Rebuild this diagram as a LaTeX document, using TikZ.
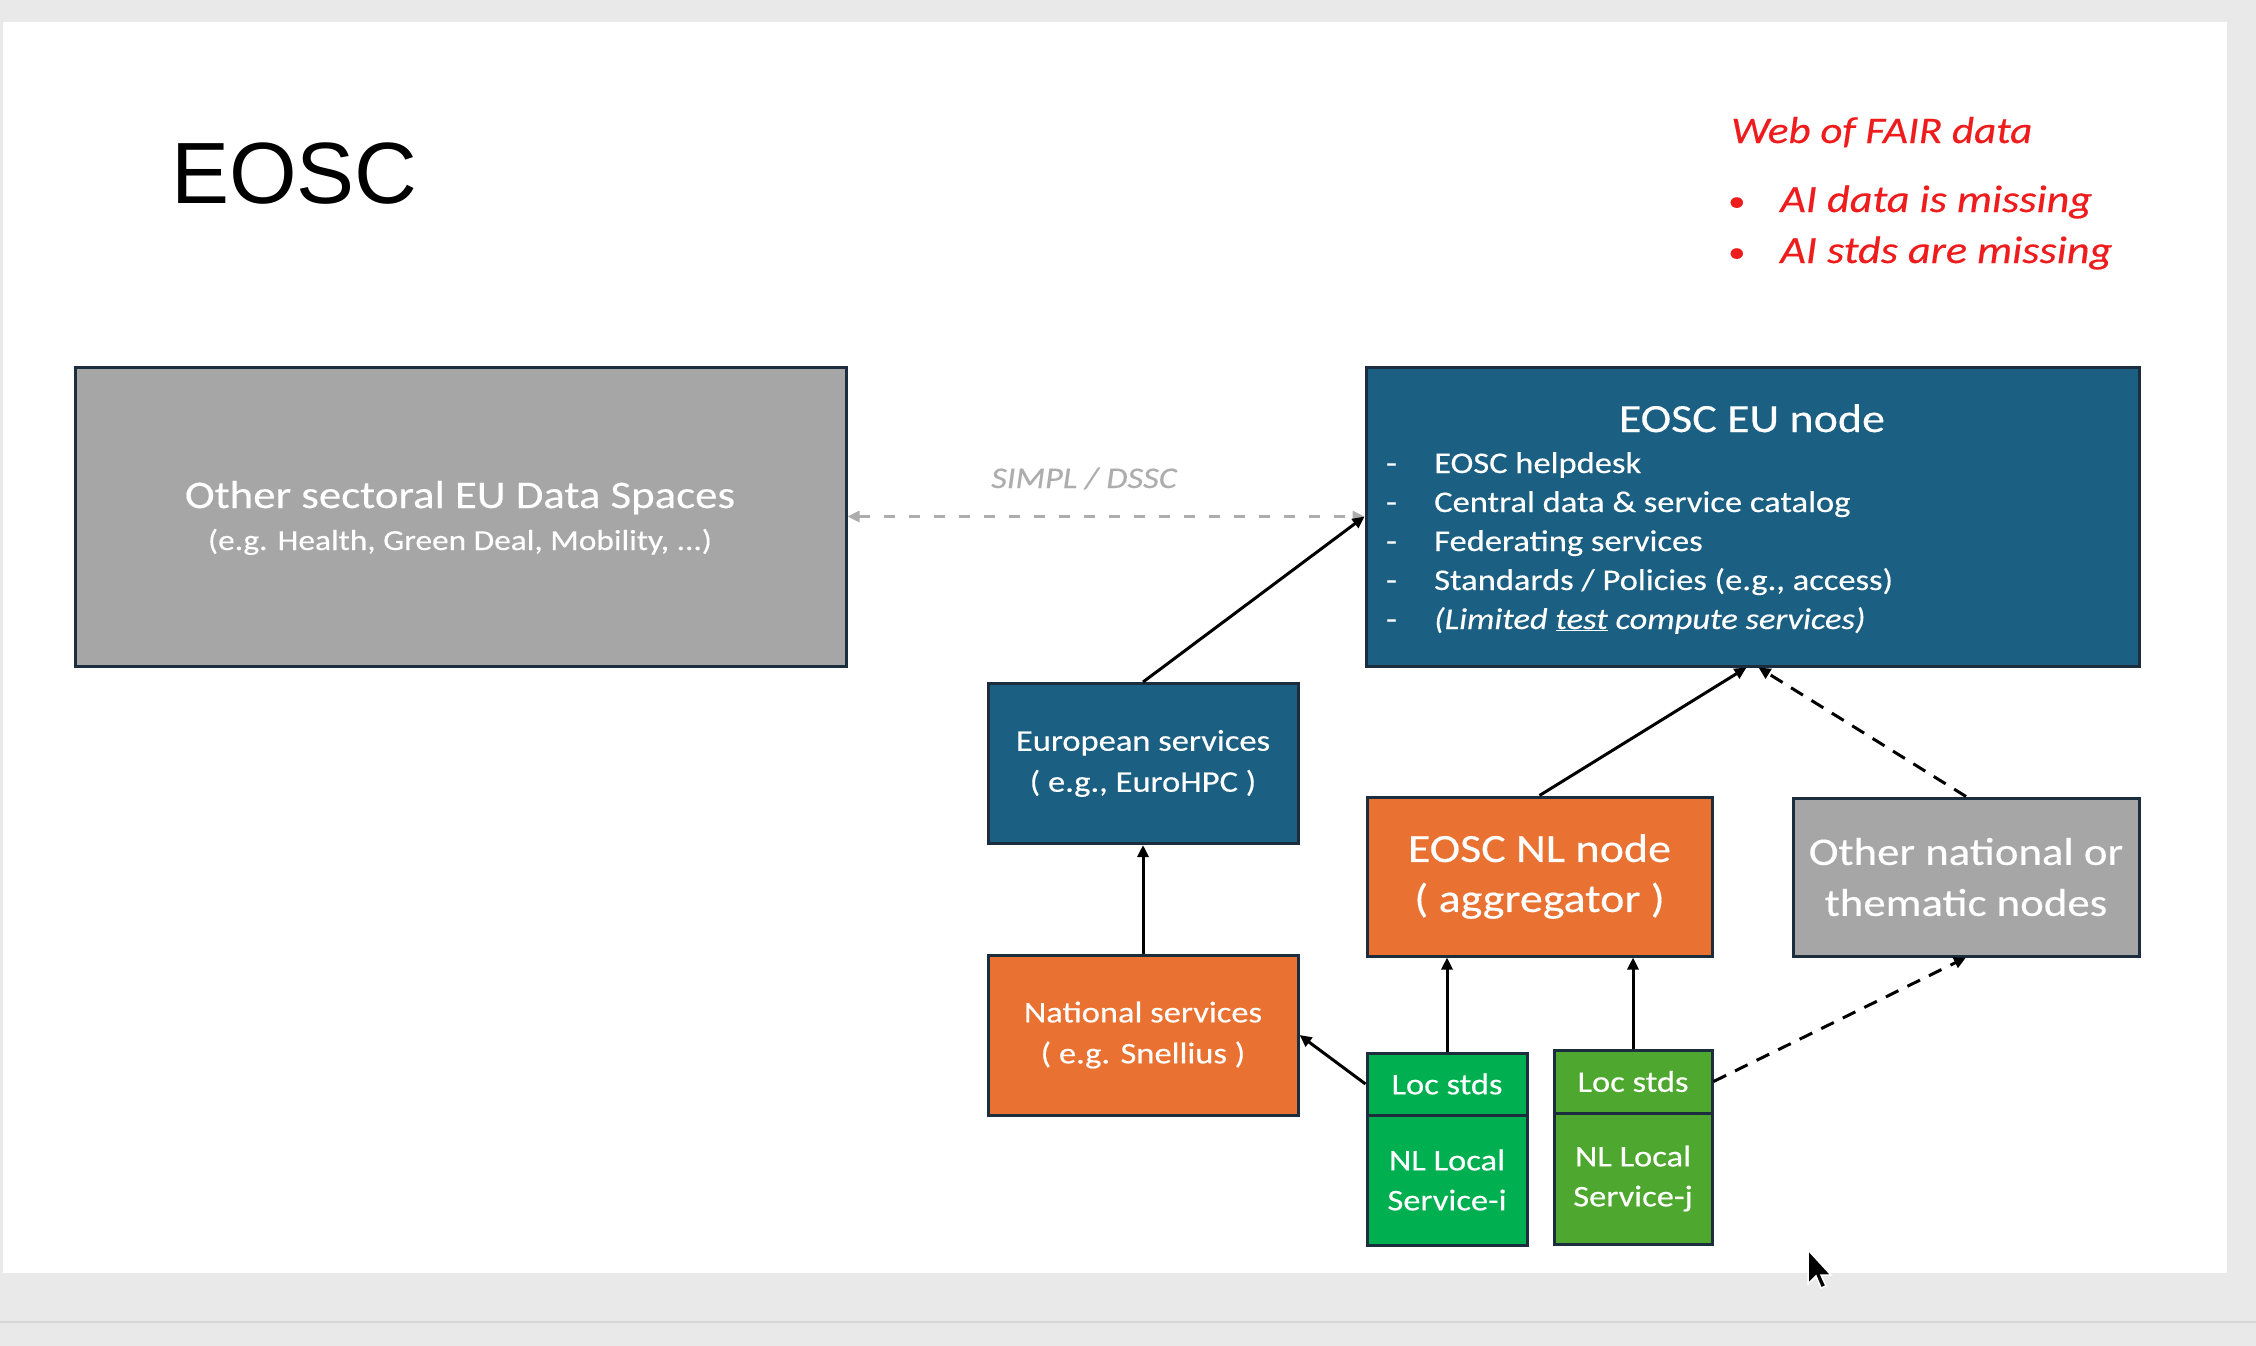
\documentclass[tikz,border=0pt]{standalone}
\usepackage{fontspec}
\setmainfont{Carlito}[FakeStretch=1.15, FakeBold=0.35]
\newfontfamily\titlefont{Liberation Sans}
\usetikzlibrary{arrows.meta}
\definecolor{bgray}{HTML}{E9E9E9}
\definecolor{bline}{HTML}{D6D6D6}
\definecolor{eublue}{HTML}{1B5F82}
\definecolor{edgec}{HTML}{1C2E3D}
\definecolor{orng}{HTML}{E97132}
\definecolor{boxgray}{HTML}{A6A6A6}
\definecolor{greenA}{HTML}{00B050}
\definecolor{greenB}{HTML}{4EA72E}
\definecolor{redtxt}{HTML}{EE1C1C}
\definecolor{linkgray}{HTML}{ADADAD}
\newcommand\setfs[2]{\fontsize{#1}{#2}\selectfont}
\tikzset{
  box/.style={draw=edgec, line width=3pt, text=white, align=center, inner sep=0pt, rectangle},
  conn/.style={line width=3pt, -{Triangle[length=12pt,width=11pt]}},
  dconn/.style={conn, dash pattern=on 14pt off 10pt},
  gconn/.style={line width=3pt, draw=linkgray, dash pattern=on 11pt off 14pt,
     {Triangle[length=12pt,width=11pt]}-{Triangle[length=12pt,width=11pt]}},
  lbl/.style={inner sep=0pt, anchor=base west},
  ctr/.style={inner sep=0pt, anchor=base},
}
\begin{document}
\begin{tikzpicture}[x=1pt,y=-1pt]
\useasboundingbox (0,0) rectangle (2256,1346);
\fill[bgray] (0,0) rectangle (2256,1346);
\fill[white] (3,22) rectangle (2227,1273);
\draw[bline, line width=2pt] (0,1322) -- (2256,1322);

% title and notes
\node[lbl, font=\titlefont\setfs{87}{87}] (title) at (171,203) {EOSC};
\node[lbl, text=redtxt, font=\itshape\setfs{37.5}{40}] (fair) at (1731,143) {Web of FAIR data};
\node[lbl, text=redtxt, font=\setfs{30}{40}] (b1) at (1728,211) {•};
\node[lbl, text=redtxt, font=\setfs{30}{40}] (b2) at (1728,262) {•};
\node[lbl, text=redtxt, font=\itshape\setfs{38.5}{40}] (r1) at (1780,212) {AI data is missing};
\node[lbl, text=redtxt, font=\itshape\setfs{38.5}{40}] (r2) at (1780,263) {AI stds are missing};

% boxes
\node[box, fill=boxgray, minimum width=771pt, minimum height=299pt] (gray) at (460.5,516.5) {};
\node[ctr, text=white, font=\setfs{39}{42}] (grayt1) at (460,508) {Other sectoral EU Data Spaces};
\node[ctr, text=white, font=\setfs{29}{32}] (grayt2) at (460,550) {(e.g. Health, Green Deal, Mobility, ...)};

\node[box, fill=eublue, minimum width=773pt, minimum height=299pt] (eu) at (1752.5,516.5) {};
\node[ctr, text=white, font=\setfs{40}{42}] (eut) at (1752,432) {EOSC EU node};
\foreach \y/\t [count=\i] in {473/{EOSC helpdesk},512/{Central data \& service catalog},551/{Federating services},590/{Standards / Policies (e.g., access)},629/{\itshape (Limited \underline{test} compute services)}}{
  \node[lbl, text=white, font=\setfs{30}{32}] (dash\i) at (1386,\y) {-};
  \node[lbl, text=white, font=\setfs{30}{32}] (item\i) at (1434,\y) {\t};
}

\node[box, fill=eublue, minimum width=310pt, minimum height=160pt, font=\setfs{30}{41}] (eur) at (1143,763.5) {European services\\( e.g., EuroHPC )};
\node[box, fill=orng, minimum width=310pt, minimum height=160pt, font=\setfs{30}{41}] (nat) at (1143,1035) {National services\\( e.g. Snellius )};
\node[box, fill=orng, minimum width=345pt, minimum height=159pt, font=\setfs{40}{50}] (nl) at (1539.5,876.5) {EOSC NL node\\( aggregator )};
\node[box, fill=boxgray, minimum width=346pt, minimum height=158pt, font=\setfs{39}{51}] (other) at (1966,877) {Other national or\\thematic nodes};

\node[box, fill=greenA, minimum width=160pt, minimum height=62pt, font=\setfs{30}{32}] (loci) at (1447,1084) {Loc stds};
\node[box, fill=greenA, minimum width=160pt, minimum height=130pt, font=\setfs{30}{40}] (svci) at (1447,1180) {NL Local\\Service-i};
\node[box, fill=greenB, minimum width=158pt, minimum height=63pt, font=\setfs{30}{32}] (locj) at (1633,1081.5) {Loc stds};
\node[box, fill=greenB, minimum width=158pt, minimum height=131pt, font=\setfs{30}{40}] (svcj) at (1633,1178.5) {NL Local\\Service-j};

\node[ctr, text=linkgray, font=\itshape\setfs{30}{32}] (simpl) at (1084,488) {SIMPL / DSSC};

% connectors
\draw[gconn] (gray.east) -- (eu.west);
\draw[conn] (eur.north) -- (eu.west);
\draw[conn] (nat.north) -- (eur.south);
\draw[conn] (loci.west) -- (nat.east);
\draw[conn] (loci.north) -- (loci.north |- nl.south);
\draw[conn] (locj.north) -- (locj.north |- nl.south);
\draw[conn] (nl.north) -- ([xshift=-6pt]eu.south);
\draw[dconn] (other.north) -- ([xshift=6pt]eu.south);
\draw[dconn] (locj.east) -- (other.south);

% mouse pointer
\filldraw[fill=black, draw=white, line width=1.5pt]
  (1808,1250) -- (1808,1284) -- (1816,1276) -- (1821,1288) -- (1826,1286) -- (1821,1275) -- (1831,1275) -- cycle;
\end{tikzpicture}
\end{document}
